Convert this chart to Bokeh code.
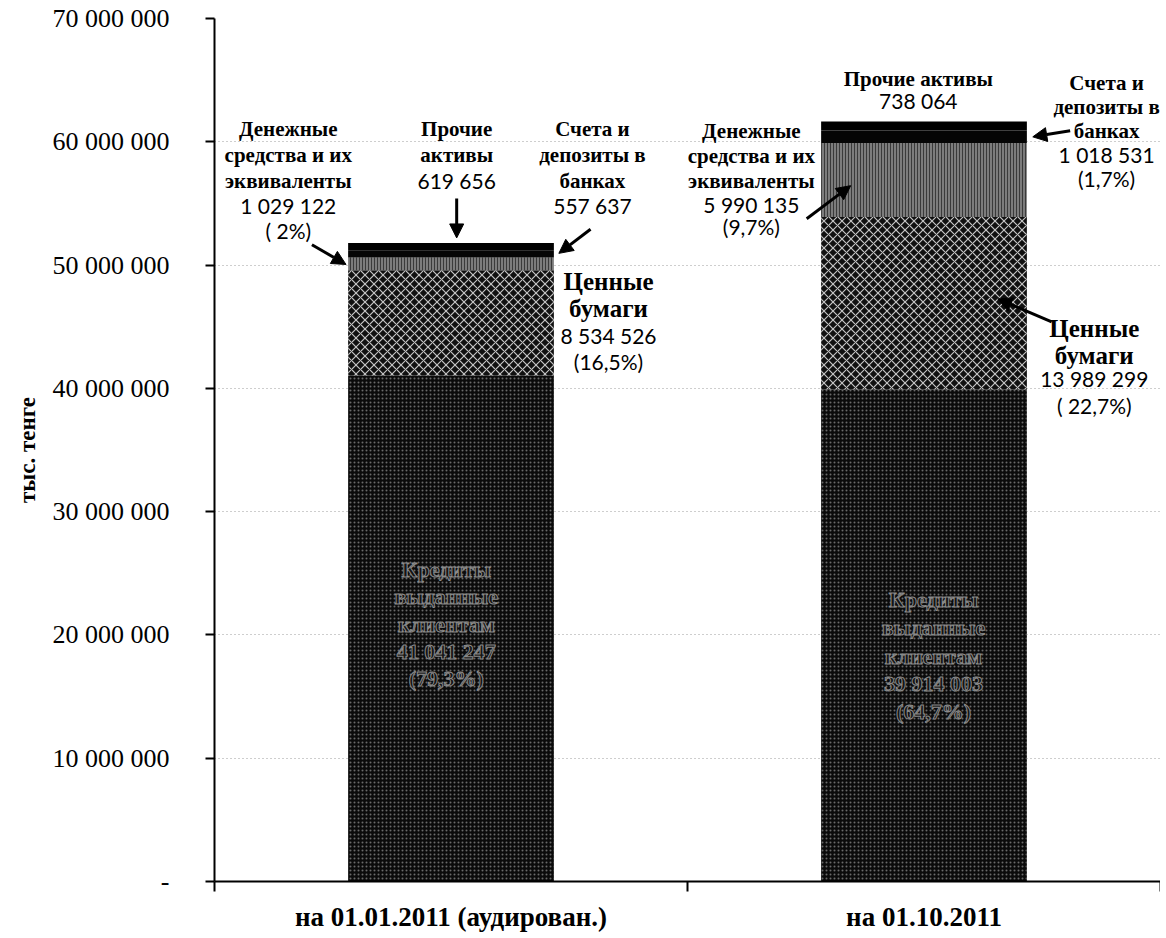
from bokeh.plotting import figure
from bokeh.models import (ColumnDataSource, Range1d, FixedTicker, LinearAxis,
                          Arrow, NormalHead)
from bokeh.core.properties import value
from bokeh.embed import file_html
from bokeh.resources import INLINE

# ---------------- data ----------------
categories = ["на 01.01.2011 (аудирован.)", "на 01.10.2011"]
series_names = ["Кредиты выданные клиентам", "Ценные бумаги",
                "Денежные средства и их эквиваленты",
                "Счета и депозиты в банках", "Прочие активы"]
credits = [41041247, 39914003]
securities = [8534526, 13989299]
cash = [1029122, 5990135]
deposits = [557637, 1018531]
other = [619656, 738064]
y_ticks = [0, 10000000, 20000000, 30000000, 40000000, 50000000, 60000000, 70000000]

# ---------------- styles ----------------
SERIF = "Liberation Serif"
NUMF = "Lato"
series_values = [credits, securities, cash, deposits, other]
fills = ["#0b0b0b", "#101010", "#7c7c7c", "#050505", "#000000"]
hatches = ["dot", "diagonal_cross", "vertical_line", None, None]
hatch_colors = ["#6a6a6a", "#c4c4c4", "#3a3a3a", None, None]
hatch_scales = [4, 9, 3, 1, 1]
hatch_weights = [1.0, 1.2, 1.0, 1, 1]
BAR_W = 0.435


def fmt(v):
    return f"{v:,}".replace(",", " ")


p = figure(width=1160, height=934, output_backend="svg", toolbar_location=None,
           x_range=Range1d(0, 2), y_range=Range1d(0, 70000000),
           min_border_left=214, min_border_top=18, min_border_bottom=52,
           min_border_right=0)
p.outline_line_color = None
p.background_fill_color = "white"
p.border_fill_color = "white"

xs = [i + 0.5 for i in range(len(categories))]
bottoms = [0] * len(categories)
for k, vals in enumerate(series_values):
    tops = [b + v for b, v in zip(bottoms, vals)]
    src = ColumnDataSource(dict(x=xs, bottom=list(bottoms), top=tops))
    kw = dict(x="x", bottom="bottom", top="top", width=BAR_W, source=src,
              fill_color=fills[k], line_color=None)
    if hatches[k]:
        kw.update(hatch_pattern=hatches[k], hatch_color=hatch_colors[k],
                  hatch_scale=hatch_scales[k], hatch_weight=hatch_weights[k])
    p.vbar(**kw)
    bottoms = tops
totals = bottoms

# ---------------- axes ----------------
p.xgrid.visible = False
p.ygrid.ticker = FixedTicker(ticks=y_ticks)
p.ygrid.grid_line_color = "#9c9c9c"
p.ygrid.grid_line_dash = "1 3"
p.ygrid.grid_line_width = 1

yax = p.yaxis[0]
yax.ticker = FixedTicker(ticks=y_ticks)
yax.major_label_overrides = {t: (fmt(t) if t else "-") for t in y_ticks}
yax.major_label_text_font = SERIF
yax.major_label_text_font_size = "26px"
yax.major_label_text_color = "black"
yax.major_tick_out = 9
yax.major_tick_in = 0
yax.major_label_standoff = 36
yax.minor_tick_line_color = None
yax.axis_line_width = 2
yax.major_tick_line_width = 2
yax.axis_label = "тыс. тенге"
yax.axis_label_text_font = SERIF
yax.axis_label_text_font_style = "bold"
yax.axis_label_text_font_size = "23px"
yax.axis_label_text_color = "black"
yax.axis_label_standoff = 10

xax = p.xaxis[0]
xax.ticker = FixedTicker(ticks=xs, minor_ticks=[0, 1, 2])
xax.major_label_overrides = {x: c for x, c in zip(xs, categories)}
xax.major_label_text_font = SERIF
xax.major_label_text_font_style = "bold"
xax.major_label_text_font_size = "27px"
xax.major_label_text_color = "black"
xax.major_tick_line_color = None
xax.major_tick_out = 0
xax.major_tick_in = 0
xax.major_label_standoff = 10
xax.minor_tick_out = 10
xax.minor_tick_in = 0
xax.minor_tick_line_width = 2
xax.axis_line_width = 2

rax = LinearAxis(ticker=FixedTicker(ticks=[]), axis_line_color="#444444",
                 axis_line_width=1, major_tick_line_color=None,
                 minor_tick_line_color=None, major_label_text_font_size="0px",
                 major_label_standoff=0, major_tick_out=0, minor_tick_out=0)
p.add_layout(rax, "right")

# ---------------- annotations ----------------
NAME, NUM, BIG = ("name", "num", "big")
groups = [
    # (x, [(text, y, kind), ...])
    (0.156, [("Денежные", 61.07e6, NAME), ("средства и их", 58.96e6, NAME),
             ("эквиваленты", 56.84e6, NAME), (fmt(cash[0]), 54.81e6, NUM),
             ("( 2%)", 52.81e6, NUM)]),
    (0.512, [("Прочие", 61.07e6, NAME), ("активы", 58.96e6, NAME),
             (fmt(other[0]), 56.84e6, NUM)]),
    (0.799, [("Счета и", 61.07e6, NAME), ("депозиты в", 58.96e6, NAME),
             ("банках", 56.84e6, NAME), (fmt(deposits[0]), 54.81e6, NUM)]),
    (0.833, [("Ценные", 48.64e6, BIG), ("бумаги", 46.45e6, BIG),
             (fmt(securities[0]), 44.26e6, NUM), ("(16,5%)", 42.15e6, NUM)]),
    (1.488, [("Прочие активы", 65.13e6, NAME), (fmt(other[1]), 63.34e6, NUM)]),
    (1.886, [("Счета и", 64.80e6, NAME), ("депозиты в", 62.85e6, NAME),
             ("банках", 60.90e6, NAME), (fmt(deposits[1]), 58.96e6, NUM),
             ("(1,7%)", 57.01e6, NUM)]),
    (1.135, [("Денежные", 60.90e6, NAME), ("средства и их", 58.87e6, NAME),
             ("эквиваленты", 56.84e6, NAME), (fmt(cash[1]), 54.89e6, NUM),
             ("(9,7%)", 53.11e6, NUM)]),
    (1.860, [("Ценные", 44.83e6, BIG), ("бумаги", 42.63e6, BIG),
             (fmt(securities[1]), 40.77e6, NUM), ("( 22,7%)", 38.57e6, NUM)]),
]
kind_style = {NAME: (SERIF, "21px", "bold"), NUM: (NUMF, "21px", "normal"),
              BIG: (SERIF, "25px", "bold")}
for kind, (font, size, style) in kind_style.items():
    ax_, ay_, at_ = [], [], []
    for gx, lines in groups:
        for t, y, k in lines:
            if k == kind:
                ax_.append(gx); ay_.append(y); at_.append(t)
    src = ColumnDataSource(dict(x=ax_, y=ay_, text=at_))
    p.text(x="x", y="y", text="text", source=src, text_font=value(font),
           text_font_size=value(size), text_font_style=style, text_color="black",
           text_align="center", text_baseline="middle")

# credits labels inside the bars
cx, cy, ct = [], [], []
credit_line_y = [[25.34e6, 23.14e6, 20.87e6, 18.68e6, 16.48e6],
                 [22.90e6, 20.63e6, 18.27e6, 16.08e6, 13.80e6]]
credit_x_shift = [-0.01, 0.02]
for i in range(len(categories)):
    pct = f"({credits[i] / totals[i] * 100:.1f}%)".replace(".", ",")
    lines = ["Кредиты", "выданные", "клиентам", fmt(credits[i]), pct]
    for t, y in zip(lines, credit_line_y[i]):
        cx.append(xs[i] + credit_x_shift[i]); cy.append(y); ct.append(t)
csrc = ColumnDataSource(dict(x=cx, y=cy, text=ct))
p.text(x="x", y="y", text="text", source=csrc, text_font=value(SERIF),
       text_font_size="22px", text_font_style="bold", text_color="#141414",
       text_outline_color="#8a8a8a", text_align="center", text_baseline="middle")

# arrows
arr = ColumnDataSource(dict(
    x0=[0.206, 0.512, 0.795, 1.809, 1.252, 1.770],
    y0=[51.65e6, 55.40e6, 52.9e6, 60.9e6, 53.76e6, 45.39e6],
    x1=[0.278, 0.512, 0.728, 1.730, 1.345, 1.656],
    y1=[50.05e6, 52.2e6, 50.95e6, 60.40e6, 56.44e6, 47.26e6]))
p.add_layout(Arrow(end=NormalHead(size=14, fill_color="black", line_color="black"),
                   x_start="x0", y_start="y0", x_end="x1", y_end="y1",
                   source=arr, line_width=3, line_color="black"))

open("out.html", "w").write(file_html(p, INLINE))
